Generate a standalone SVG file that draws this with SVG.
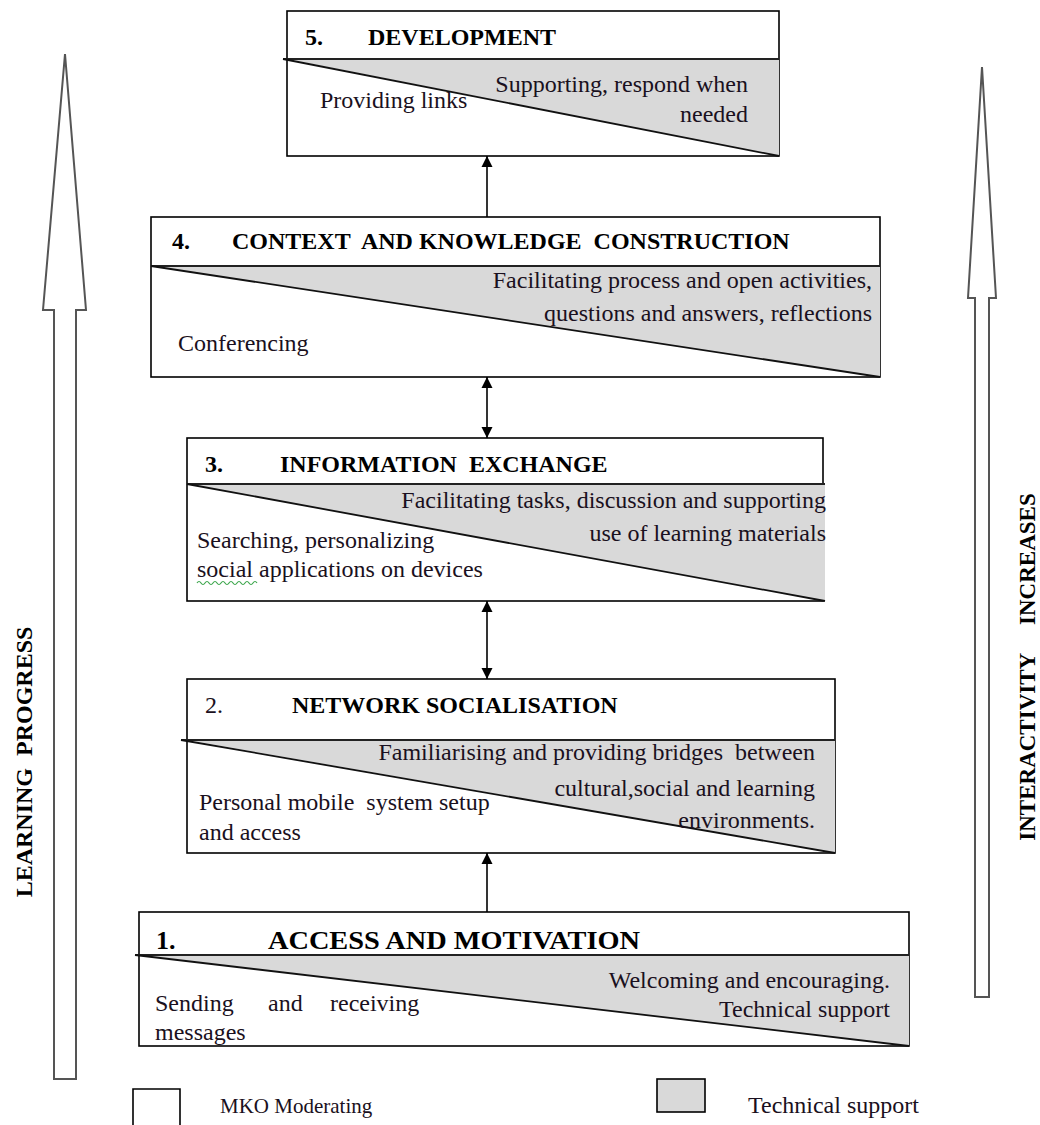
<svg xmlns="http://www.w3.org/2000/svg" width="1040" height="1125" viewBox="0 0 1040 1125">
<style>
.bg{fill:#ffffff}
.box{fill:#ffffff;stroke:#000;stroke-width:1.6}
.tri{fill:#d9d9d9;stroke:none}
.div{stroke:#222;stroke-width:1.8;fill:none}
.diag{stroke:#111;stroke-width:1.8;fill:none}
.t{font-family:"Liberation Serif","Times New Roman",serif;font-size:24px;fill:#1a1020}
.b{font-weight:bold;fill:#000}
.e{text-anchor:end}
.conn{stroke:#000;stroke-width:1.6;fill:none}
.big{fill:#ffffff;stroke:#555;stroke-width:2}
</style>
<defs>
<marker id="ah" viewBox="0 0 10 10" refX="10" refY="5" markerUnits="userSpaceOnUse" markerWidth="11" markerHeight="12" orient="auto-start-reverse">
<path d="M0,0 L10,5 L0,10 z" fill="#000"/>
</marker>
</defs>
<rect class="bg" x="0" y="0" width="1040" height="1125"/>

<g id="learning-progress-arrow">
<polygon class="big" points="65,54 86,310 76,310 76,1079 54,1079 54,310 43,310"/>
<text class="t b" transform="translate(32,762) rotate(-90)" text-anchor="middle" xml:space="preserve">LEARNING  PROGRESS</text>
</g>

<g id="interactivity-arrow">
<polygon class="big" points="982,67 996,298 989,298 989,997 975,997 975,298 968,298"/>
<text class="t b" transform="translate(1035,667) rotate(-90)" text-anchor="middle" style="font-size:23px" xml:space="preserve">INTERACTIVITY     INCREASES</text>
</g>

<g id="node5">
<rect class="box" x="287" y="11" width="492" height="145"/>
<polygon class="tri" points="287,59 779,59 779,156"/>
<line class="div" x1="283" y1="59" x2="779" y2="59"/>
<line class="diag" x1="283" y1="59" x2="779" y2="156"/>
<text class="t b" x="305" y="45">5.</text>
<text class="t b" x="368" y="45">DEVELOPMENT</text>
<text class="t" x="320" y="108">Providing links</text>
<text class="t e" x="748" y="92">Supporting, respond when</text>
<text class="t e" x="748" y="122">needed</text>
</g>

<g id="node4">
<rect class="box" x="151" y="217" width="729" height="160"/>
<polygon class="tri" points="151,266 880,266 880,377"/>
<line class="div" x1="151" y1="266" x2="880" y2="266"/>
<line class="diag" x1="151" y1="266" x2="880" y2="377"/>
<text class="t b" x="172" y="249">4.</text>
<text class="t b" x="232" y="249" xml:space="preserve">CONTEXT  AND KNOWLEDGE  CONSTRUCTION</text>
<text class="t e" x="872" y="288">Facilitating process and open activities,</text>
<text class="t e" x="872" y="321">questions and answers, reflections</text>
<text class="t" x="178" y="351">Conferencing</text>
</g>

<g id="node3">
<rect class="box" x="187" y="438" width="636" height="163"/>
<polygon class="tri" points="187,484 825,484 825,601"/>
<line class="div" x1="187" y1="484" x2="825" y2="484"/>
<line class="diag" x1="187" y1="484" x2="825" y2="601"/>
<text class="t b" x="205" y="472">3.</text>
<text class="t b" x="280" y="472" xml:space="preserve">INFORMATION  EXCHANGE</text>
<text class="t e" x="826" y="508">Facilitating tasks, discussion and supporting</text>
<text class="t e" x="826" y="541">use of learning materials</text>
<text class="t" x="197" y="548">Searching, personalizing</text>
<text class="t" x="197" y="577">social applications on devices</text>
<path d="M197,583 q2,-3 4,0 t4,0 t4,0 t4,0 t4,0 t4,0 t4,0 t4,0 t4,0 t4,0 t4,0 t4,0 t4,0 t4,0 t4,0" stroke="#3aa54a" stroke-width="1.2" fill="none"/>
</g>

<g id="node2">
<rect class="box" x="187" y="679" width="648" height="174"/>
<polygon class="tri" points="187,740 835,740 835,853"/>
<line class="div" x1="181" y1="740" x2="835" y2="740"/>
<line class="diag" x1="181" y1="740" x2="835" y2="853"/>
<text class="t" x="205" y="713">2.</text>
<text class="t b" x="292" y="713">NETWORK SOCIALISATION</text>
<text class="t e" x="815" y="760" xml:space="preserve">Familiarising and providing bridges  between</text>
<text class="t e" x="815" y="796">cultural,social and learning</text>
<text class="t e" x="815" y="828">environments.</text>
<text class="t" x="199" y="810" xml:space="preserve">Personal mobile  system setup</text>
<text class="t" x="199" y="840">and access</text>
</g>

<g id="node1">
<rect class="box" x="139" y="912" width="770" height="134"/>
<polygon class="tri" points="139,955 909,955 909,1046"/>
<line class="div" x1="135" y1="955" x2="909" y2="955"/>
<line class="diag" x1="135" y1="955" x2="909" y2="1046"/>
<text class="t b" x="156" y="949" style="font-size:26px">1.</text>
<text class="t b" x="268" y="949" style="font-size:26px" textLength="372" lengthAdjust="spacingAndGlyphs">ACCESS AND MOTIVATION</text>
<text class="t e" x="890" y="988">Welcoming and encouraging.</text>
<text class="t e" x="890" y="1017">Technical support</text>
<text class="t" x="155" y="1011">Sending</text>
<text class="t" x="268" y="1011">and</text>
<text class="t" x="330" y="1011">receiving</text>
<text class="t" x="155" y="1040">messages</text>
</g>

<g id="connectors">
<line class="conn" x1="487" y1="912" x2="487" y2="853" marker-end="url(#ah)"/>
<line class="conn" x1="487" y1="601" x2="487" y2="679" marker-start="url(#ah)" marker-end="url(#ah)"/>
<line class="conn" x1="487" y1="377" x2="487" y2="438" marker-start="url(#ah)" marker-end="url(#ah)"/>
<line class="conn" x1="487" y1="217" x2="487" y2="156" marker-end="url(#ah)"/>
</g>

<g id="legend">
<path d="M133,1125 L133,1089 L180,1089 L180,1125" fill="#fff" stroke="#000" stroke-width="1.6"/>
<text class="t" x="220" y="1113" style="font-size:21px">MKO Moderating</text>
<rect x="657" y="1079" width="48" height="33" fill="#d9d9d9" stroke="#000" stroke-width="1.6"/>
<text class="t" x="748" y="1113">Technical support</text>
</g>
</svg>
